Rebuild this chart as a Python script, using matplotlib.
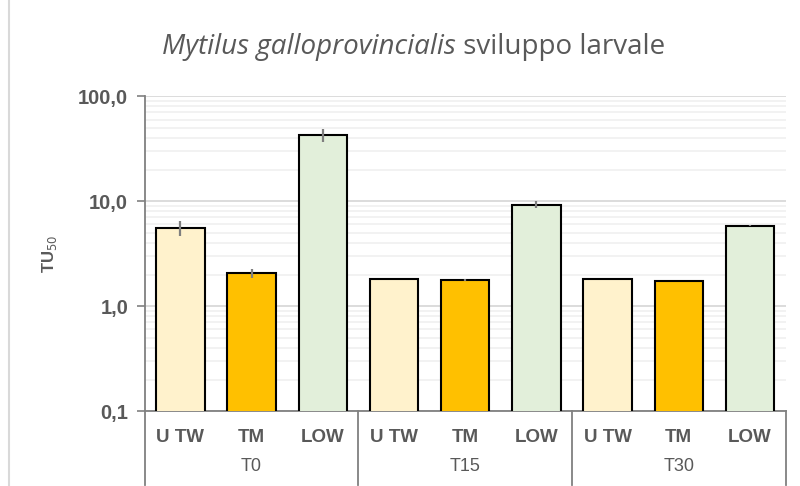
import numpy as np
import matplotlib.pyplot as plt
from matplotlib.ticker import FixedLocator, LogLocator, NullFormatter
from matplotlib.lines import Line2D

# Data
groups = ["T0", "T15", "T30"]
samples = ["UTW", "TM", "LOW"]
tick_labels = ["U TW", "TM", "LOW"]
values = [5.55, 2.06, 42.5,
          1.80, 1.78, 9.3,
          1.80, 1.75, 5.85]
errors = [0.9, 0.2, 6.0,
          0.0, 0.05, 0.7,
          0.0, 0.0, 0.05]
colors = {"UTW": "#FFF2CC", "TM": "#FFC000", "LOW": "#E2EFDA"}

gray = "#595959"
plt.rcParams["font.family"] = ["Liberation Sans", "DejaVu Sans"]

fig = plt.figure(figsize=(8, 4.86), dpi=100)
ax = fig.add_axes([0.181, 0.154, 0.801, 0.648])

n = len(values)
x = np.arange(n)
bar_colors = [colors[samples[i % 3]] for i in range(n)]
ax.bar(x, values, width=0.68, color=bar_colors, edgecolor="black",
       linewidth=1.5, zorder=3)
ax.errorbar(x, values, yerr=errors, fmt="none", ecolor="#7f7f7f",
            elinewidth=1.6, capsize=0, zorder=4)

ax.set_yscale("log")
ax.set_ylim(0.1, 100)
ax.set_xlim(-0.5, n - 0.5)
ax.yaxis.set_major_locator(FixedLocator([0.1, 1, 10, 100]))
ax.yaxis.set_minor_locator(LogLocator(base=10, subs=np.arange(2, 10)))
ax.yaxis.set_minor_formatter(NullFormatter())
ax.set_yticklabels(["0,1", "1,0", "10,0", "100,0"])
ax.tick_params(axis="y", which="major", direction="out", length=6,
               color="#808080", width=1.2, labelsize=14.5, labelcolor=gray,
               pad=6)
for lab in ax.get_yticklabels():
    lab.set_fontweight("bold")
ax.tick_params(axis="y", which="minor", length=0)
ax.grid(axis="y", which="major", color="#d9d9d9", linewidth=1.3, zorder=0)
ax.grid(axis="y", which="minor", color="#efefef", linewidth=1.1, zorder=0)

for s in ["top", "right"]:
    ax.spines[s].set_visible(False)
ax.spines["left"].set_color("#808080")
ax.spines["left"].set_linewidth(1.3)
ax.spines["bottom"].set_color("#808080")
ax.spines["bottom"].set_linewidth(1.3)

# category labels and group labels
ax.set_xticks([])
trans = ax.get_xaxis_transform()
for i in range(n):
    ax.text(x[i], -0.085, tick_labels[i % 3], transform=trans, ha="center",
            va="center", fontsize=13.5, fontweight="bold", color=gray)
for g, name in enumerate(groups):
    ax.text(3 * g + 1, -0.177, name, transform=trans, ha="center",
            va="center", fontsize=13, color=gray)
for b in [-0.5, 2.5, 5.5, 8.5]:
    ax.plot([b, b], [0, -0.235], transform=trans, color="#808080",
            linewidth=1.3, clip_on=False)

ax.set_ylabel("TU$_{50}$", fontsize=12, fontweight="bold", color=gray,
              labelpad=14)

# light border on the left of the chart area
fig.add_artist(Line2D([0.011, 0.011], [0, 1], color="#d9d9d9", linewidth=1.5))

# title: italic species name + regular text
t1 = fig.text(0.5, 0.903, "Mytilus galloprovincialis", fontsize=20,
              style="italic", color=gray, family="Open Sans", ha="left",
              va="center")
t2 = fig.text(0.5, 0.903, " sviluppo larvale", fontsize=20, color=gray,
              family="Open Sans", ha="left", va="center")
fig.canvas.draw()
r = fig.canvas.get_renderer()
w1 = t1.get_window_extent(r).width / fig.bbox.width
w2 = t2.get_window_extent(r).width / fig.bbox.width
x0 = 0.5175 - (w1 + w2) / 2
t1.set_x(x0)
t2.set_x(x0 + w1)

fig.savefig("out.png", dpi=100)
